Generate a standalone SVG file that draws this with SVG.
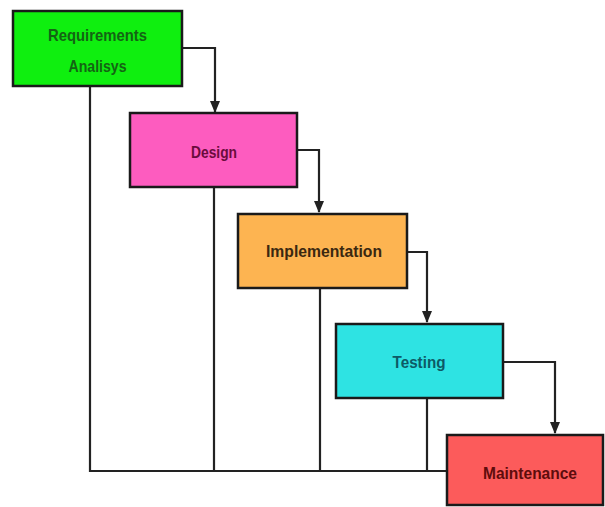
<svg xmlns="http://www.w3.org/2000/svg" width="605" height="507" viewBox="0 0 605 507">
<style>
.box{stroke:#1a1a1a;stroke-width:2.5}
.lbl{font-family:"Liberation Sans",Arial,sans-serif;font-weight:bold;font-size:17px;text-anchor:middle}
.ln{fill:none;stroke:#222;stroke-width:2.2}
</style>
<defs>
<marker id="ah" markerWidth="12" markerHeight="12" refX="11" refY="5" orient="auto" markerUnits="userSpaceOnUse" viewBox="0 0 12 10">
<path d="M0,0 L12,5 L0,10 Z" fill="#222"/>
</marker>
</defs>
<rect width="605" height="507" fill="#fff"/>
<g id="connectors">
<path class="ln" d="M182,48 H215 V112" marker-end="url(#ah)"/>
<path class="ln" d="M297,150 H319 V212" marker-end="url(#ah)"/>
<path class="ln" d="M407,252 H427 V322" marker-end="url(#ah)"/>
<path class="ln" d="M503,362 H555 V433" marker-end="url(#ah)"/>
<path class="ln" d="M90,86 V471 H447"/>
<path class="ln" d="M214,187 V471"/>
<path class="ln" d="M320,288 V471"/>
<path class="ln" d="M427,398 V471"/>
</g>
<g id="req">
<rect class="box" x="13" y="11" width="169" height="75" fill="#0fef0f"/>
<text class="lbl" x="97.5" y="41" fill="#146414" textLength="99" lengthAdjust="spacingAndGlyphs">Requirements</text>
<text class="lbl" x="97.5" y="72" fill="#146414" textLength="58" lengthAdjust="spacingAndGlyphs">Analisys</text>
</g>
<g id="design">
<rect class="box" x="130" y="113" width="167" height="74" fill="#fd5cbf"/>
<text class="lbl" x="214" y="158" fill="#6a0c3c" textLength="46" lengthAdjust="spacingAndGlyphs">Design</text>
</g>
<g id="impl">
<rect class="box" x="238" y="214" width="169" height="74" fill="#fdb451"/>
<text class="lbl" x="324" y="257" fill="#3a2810" textLength="116" lengthAdjust="spacingAndGlyphs">Implementation</text>
</g>
<g id="testing">
<rect class="box" x="336" y="324" width="167" height="74" fill="#2ee3e3"/>
<text class="lbl" x="419" y="368" fill="#0d5a66" textLength="53" lengthAdjust="spacingAndGlyphs">Testing</text>
</g>
<g id="maint">
<rect class="box" x="447" y="435" width="156" height="70" fill="#fc5b5b"/>
<text class="lbl" x="530" y="479" fill="#5e0c0c" textLength="94" lengthAdjust="spacingAndGlyphs">Maintenance</text>
</g>
</svg>
